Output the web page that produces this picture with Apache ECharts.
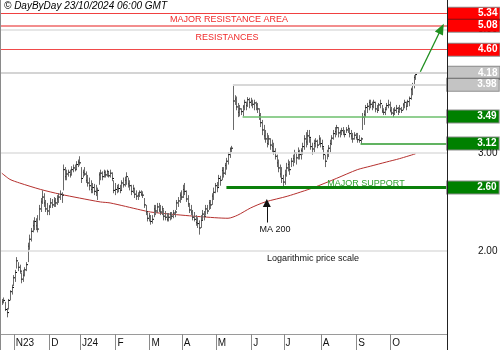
<!DOCTYPE html>
<html>
<head>
<meta charset="utf-8">
<script src="https://cdn.jsdelivr.net/npm/echarts@6/dist/echarts.min.js"></script>
<style>
  html, body { margin: 0; padding: 0; background: #fff; }
  #chart { width: 500px; height: 350px; }
</style>
</head>
<body>
<div id="chart"></div>
<script>
// Trading calendar: weekdays between these dates, minus exchange holidays
const firstSession = '2023-10-20';
const lastSession = '2024-10-22';
const holidays = ['2023-12-25', '2023-12-26', '2024-01-01', '2024-03-29', '2024-04-01', '2024-05-01'];
const emptySessionsAfter = 19;

// Daily highs, lows and closes
const highs = [
  1.64,1.65,1.62,1.58,1.64,1.70,1.74,1.81,1.85,1.95,
  1.91,1.89,1.83,1.85,1.87,1.91,2.07,2.14,2.20,2.27,
  2.30,2.29,2.32,2.42,2.49,2.57,2.54,2.47,2.44,2.42,
  2.49,2.48,2.50,2.49,2.52,2.54,2.57,2.55,2.86,2.83,
  2.80,2.80,2.80,2.84,2.86,2.86,2.90,2.92,2.96,2.83,
  2.80,2.83,2.78,2.74,2.71,2.68,2.65,2.64,2.63,2.60,
  2.77,2.80,2.78,2.80,2.79,2.80,2.78,2.80,2.77,2.68,
  2.65,2.63,2.64,2.63,2.68,2.71,2.72,2.77,2.71,2.68,
  2.63,2.63,2.60,2.57,2.55,2.57,2.57,2.56,2.49,2.42,
  2.34,2.34,2.32,2.32,2.42,2.42,2.44,2.44,2.42,2.41,
  2.37,2.36,2.34,2.34,2.35,2.35,2.37,2.37,2.47,2.50,
  2.55,2.57,2.63,2.65,2.57,2.52,2.44,2.42,2.37,2.35,
  2.32,2.30,2.27,2.32,2.37,2.36,2.42,2.42,2.47,2.47,
  2.54,2.60,2.65,2.66,2.74,2.73,2.83,2.83,2.88,2.94,
  3.01,3.07,3.09,3.98,3.81,3.79,3.69,3.66,3.61,3.66,
  3.74,3.71,3.78,3.77,3.77,3.74,3.74,3.71,3.69,3.61,
  3.54,3.44,3.37,3.30,3.26,3.23,3.19,3.17,3.13,3.06,
  2.98,2.92,2.86,2.83,2.74,2.80,2.88,2.92,2.90,2.94,
  2.98,3.04,3.01,3.07,3.04,3.06,3.13,3.23,3.27,3.30,
  3.30,3.19,3.13,3.17,3.19,3.17,3.23,3.20,3.17,3.07,
  2.98,3.04,3.10,3.17,3.23,3.30,3.34,3.37,3.34,3.30,
  3.33,3.34,3.30,3.34,3.37,3.33,3.30,3.26,3.27,3.26,
  3.26,3.23,3.20,3.54,3.58,3.66,3.69,3.74,3.74,3.71,
  3.74,3.71,3.66,3.69,3.74,3.66,3.61,3.63,3.69,3.74,
  3.71,3.63,3.61,3.63,3.66,3.63,3.66,3.63,3.69,3.74,
  3.71,3.74,3.79,3.93,4.01,4.14,4.19
];
const lows = [
  1.60,1.61,1.56,1.52,1.57,1.63,1.67,1.73,1.76,1.86,
  1.84,1.82,1.75,1.76,1.80,1.84,1.91,2.01,2.08,2.16,
  2.18,2.18,2.16,2.27,2.35,2.43,2.40,2.35,2.32,2.32,
  2.39,2.39,2.40,2.40,2.42,2.44,2.47,2.44,2.57,2.68,
  2.68,2.72,2.71,2.74,2.77,2.78,2.80,2.83,2.85,2.65,
  2.71,2.73,2.65,2.61,2.57,2.54,2.54,2.52,2.51,2.47,
  2.63,2.68,2.68,2.71,2.71,2.72,2.71,2.71,2.67,2.54,
  2.52,2.54,2.55,2.54,2.57,2.60,2.61,2.63,2.60,2.57,
  2.52,2.54,2.49,2.47,2.47,2.50,2.51,2.49,2.39,2.32,
  2.26,2.26,2.23,2.24,2.30,2.32,2.34,2.35,2.32,2.32,
  2.27,2.27,2.26,2.26,2.27,2.28,2.29,2.30,2.37,2.40,
  2.44,2.47,2.49,2.52,2.45,2.40,2.34,2.32,2.27,2.26,
  2.22,2.20,2.14,2.20,2.27,2.27,2.32,2.33,2.37,2.38,
  2.42,2.47,2.54,2.55,2.61,2.62,2.68,2.71,2.74,2.80,
  2.86,2.94,3.01,3.30,3.66,3.58,3.48,3.49,3.51,3.49,
  3.58,3.58,3.63,3.61,3.64,3.61,3.58,3.58,3.54,3.44,
  3.34,3.23,3.17,3.13,3.07,3.10,3.04,3.01,2.98,2.92,
  2.83,2.77,2.71,2.65,2.61,2.63,2.72,2.78,2.74,2.83,
  2.84,2.88,2.86,2.92,2.92,2.92,2.98,3.04,3.07,3.10,
  3.13,3.04,2.98,3.01,3.07,3.06,3.10,3.07,3.04,2.92,
  2.83,2.92,2.95,3.01,3.10,3.17,3.20,3.23,3.20,3.20,
  3.23,3.23,3.20,3.26,3.26,3.20,3.17,3.13,3.17,3.17,
  3.13,3.13,3.12,3.30,3.37,3.48,3.54,3.58,3.61,3.58,
  3.61,3.55,3.54,3.58,3.61,3.54,3.51,3.51,3.58,3.61,
  3.55,3.51,3.48,3.51,3.54,3.51,3.54,3.54,3.58,3.61,
  3.58,3.63,3.64,3.74,3.81,3.92,4.06
];
const closes = [
  1.62,1.63,1.57,1.55,1.63,1.69,1.72,1.79,1.83,1.92,
  1.87,1.84,1.78,1.81,1.85,1.89,2.04,2.10,2.17,2.22,
  2.26,2.22,2.19,2.38,2.45,2.50,2.44,2.38,2.36,2.40,
  2.44,2.42,2.46,2.44,2.48,2.50,2.53,2.52,2.80,2.72,
  2.75,2.77,2.74,2.80,2.82,2.80,2.86,2.89,2.88,2.70,
  2.77,2.75,2.68,2.65,2.62,2.58,2.60,2.56,2.55,2.57,
  2.74,2.76,2.72,2.77,2.74,2.78,2.73,2.76,2.70,2.57,
  2.58,2.60,2.59,2.57,2.65,2.63,2.68,2.72,2.64,2.62,
  2.56,2.59,2.53,2.51,2.52,2.55,2.53,2.52,2.42,2.35,
  2.29,2.31,2.26,2.28,2.38,2.36,2.40,2.37,2.35,2.38,
  2.31,2.30,2.28,2.30,2.33,2.31,2.34,2.35,2.44,2.46,
  2.52,2.50,2.58,2.56,2.48,2.43,2.37,2.35,2.30,2.28,
  2.25,2.24,2.20,2.27,2.33,2.31,2.38,2.36,2.44,2.42,
  2.51,2.55,2.62,2.60,2.70,2.68,2.79,2.76,2.85,2.90,
  2.98,3.05,3.06,3.72,3.75,3.63,3.55,3.60,3.56,3.63,
  3.70,3.65,3.74,3.70,3.72,3.67,3.69,3.66,3.60,3.50,
  3.40,3.30,3.22,3.18,3.12,3.18,3.10,3.08,3.02,2.96,
  2.88,2.82,2.75,2.70,2.66,2.74,2.82,2.86,2.80,2.90,
  2.93,3.00,2.94,3.02,2.98,3.03,3.08,3.18,3.14,3.22,
  3.20,3.08,3.05,3.12,3.15,3.10,3.18,3.12,3.08,2.98,
  2.90,3.00,3.06,3.12,3.19,3.25,3.28,3.33,3.26,3.27,
  3.29,3.27,3.24,3.30,3.32,3.25,3.22,3.18,3.23,3.20,
  3.17,3.16,3.18,3.48,3.52,3.62,3.64,3.70,3.67,3.64,
  3.70,3.60,3.58,3.66,3.68,3.57,3.55,3.59,3.65,3.66,
  3.58,3.54,3.53,3.58,3.61,3.56,3.60,3.58,3.66,3.70,
  3.64,3.71,3.76,3.90,3.97,4.10,4.15
];

// 200-day moving average, [session index, value]
const ma200 = [
  [0, 2.76], [5, 2.69], [11, 2.65], [24, 2.58], [36, 2.53], [48, 2.49],
  [61, 2.45], [67, 2.44], [86, 2.37], [92, 2.35], [104, 2.33], [123, 2.305],
  [140, 2.29], [146, 2.32], [154, 2.39], [163, 2.45], [177, 2.51], [193, 2.60],
  [207, 2.70], [220, 2.80], [228, 2.84], [238, 2.89], [246, 2.93], [256, 2.99]
];

// Price levels: [value, first session index or null for full width]
const resistances = [[5.34, null], [5.08, null], [4.60, null]];
const pivots = [[4.18, null], [3.98, 143]];
const supports = [[3.49, 149], [3.12, 222], [2.60, 139]];
const gridTicks = [5.00, 3.00, 2.00];

// Projection arrow and MA marker: [session index, price]
const targetArrow = [[259, 4.20], [272, 5.02]];
const maPointer = [[164, 2.25], [164, 2.44]];

// ---------------------------------------------------------------
function buildSessions(from, to, skip) {
  const out = [];
  const d = new Date(from + 'T00:00:00Z');
  const end = new Date(to + 'T00:00:00Z');
  while (d <= end) {
    const wd = d.getUTCDay();
    const s = d.toISOString().slice(0, 10);
    if (wd !== 0 && wd !== 6 && skip.indexOf(s) < 0) out.push(s);
    d.setUTCDate(d.getUTCDate() + 1);
  }
  return out;
}
const sessions = buildSessions(firstSession, lastSession, holidays);
const categories = sessions.slice();
for (let k = 0; k < emptySessionsAfter; k++) categories.push('next' + k);
const lastIdx = categories.length - 1;

const MONTHS = 'JFMAMJJASOND';
function isMonthStart(i) {
  if (i <= 0 || i >= sessions.length) return false;
  return sessions[i].slice(5, 7) !== sessions[i - 1].slice(5, 7);
}
let firstMonthIdx = -1;
for (let i = 0; i < sessions.length; i++) { if (isMonthStart(i)) { firstMonthIdx = i; break; } }
function monthLabel(i) {
  const s = sessions[i];
  const m = parseInt(s.slice(5, 7), 10);
  let t = MONTHS[m - 1];
  if (m === 1 || i === firstMonthIdx) t += s.slice(2, 4);
  return t;
}

const FONT = 'Arial, "Liberation Sans", sans-serif';

function levelLabel(text, bg) {
  return {
    show: true, position: 'end', distance: 1, formatter: text,
    color: '#fff', fontWeight: 'bold', fontSize: 10, fontFamily: FONT,
    backgroundColor: bg, padding: [1, 2, 1, 30], lineHeight: 10,
    borderColor: 'rgba(0,0,0,0.45)', borderWidth: 1
  };
}
function levelLine(entry, style, bg) {
  const v = entry[0], start = entry[1];
  const label = levelLabel(v.toFixed(2), bg);
  if (start === null) {
    return { yAxis: v, lineStyle: style, label: label };
  }
  return [
    { coord: [start, v], lineStyle: style, label: label },
    { coord: [lastIdx, v], lineStyle: style, label: label }
  ];
}

const markData = [];
gridTicks.forEach(function (v) {
  markData.push({
    yAxis: v,
    lineStyle: { color: '#dedede', width: 1.5, type: 'solid', opacity: 1 },
    label: { show: true, position: 'end', distance: 1, formatter: v.toFixed(2),
      color: '#111', fontSize: 10, fontFamily: FONT, padding: [0, 2, 0, 30] }
  });
});
markData.push(levelLine(resistances[0], { color: '#f04040', width: 1, type: 'solid', opacity: 1 }, '#ff0000'));
markData.push(levelLine(resistances[1], { color: '#f38d8d', width: 2, type: 'solid', opacity: 1 }, '#ff0000'));
markData.push(levelLine(resistances[2], { color: '#f04a4a', width: 1.2, type: 'solid', opacity: 1 }, '#ff0000'));
markData.push(levelLine(pivots[0], { color: '#d4d4d4', width: 2, type: 'solid', opacity: 1 }, '#c4c4c4'));
markData.push(levelLine(pivots[1], { color: '#d8d8d8', width: 2, type: 'solid', opacity: 1 }, '#c4c4c4'));
markData.push(levelLine(supports[0], { color: '#6cbf6c', width: 1.5, type: 'solid', opacity: 1 }, '#008000'));
markData.push(levelLine(supports[1], { color: '#2c9a2c', width: 1.5, type: 'solid', opacity: 1 }, '#008000'));
markData.push(levelLine(supports[2], { color: '#0a800a', width: 3, type: 'solid', opacity: 1 }, '#008000'));

const arrowData = [
  [
    { coord: targetArrow[0], symbol: 'none', lineStyle: { color: '#1f8f1f', width: 1.3, type: 'solid' } },
    { coord: targetArrow[1], symbol: 'triangle', symbolSize: [9, 11], lineStyle: { color: '#1f8f1f', width: 1.3, type: 'solid' } }
  ],
  [
    { coord: maPointer[0], symbol: 'none', lineStyle: { color: '#111', width: 1, type: 'solid' } },
    { coord: maPointer[1], symbol: 'triangle', symbolSize: [8, 8], lineStyle: { color: '#111', width: 1, type: 'solid' } }
  ]
];

const barData = highs.map(function (h, i) { return [i, h, lows[i], closes[i]]; });

const chart = echarts.init(document.getElementById('chart'), null, { renderer: 'canvas' });
chart.setOption({
  animation: false,
  backgroundColor: '#fff',
  textStyle: { fontFamily: FONT },
  grid: { left: 1, right: 53, top: 0, bottom: 16 },
  xAxis: {
    type: 'category',
    data: categories,
    boundaryGap: true,
    axisLine: { show: true, lineStyle: { color: '#9a9a9a', width: 1 } },
    axisTick: {
      show: true, length: 16, lineStyle: { color: '#8a8a8a' },
      interval: function (i) { return isMonthStart(i); }
    },
    axisLabel: {
      show: true, color: '#111', fontSize: 10, fontFamily: FONT, align: 'left',
      margin: 4, padding: [0, 0, 0, 1],
      interval: function (i) { return isMonthStart(i); },
      formatter: function (v, i) { return isMonthStart(i) ? monthLabel(i) : ''; }
    },
    splitLine: { show: false }
  },
  yAxis: {
    type: 'log',
    logBase: 10,
    min: 1.4186,
    max: 5.650,
    position: 'right',
    axisLine: { show: false },
    axisTick: { show: false },
    axisLabel: { show: false },
    splitLine: { show: false }
  },
  series: [
    {
      name: 'levels',
      type: 'line',
      data: ma200,
      z: 1,
      symbol: 'none',
      lineStyle: { opacity: 0 },
      silent: true,
      markLine: { silent: true, symbol: 'none', animation: false, data: markData }
    },
    {
      name: 'MA 200',
      type: 'line',
      data: ma200,
      z: 2,
      symbol: 'none',
      smooth: 0.25,
      lineStyle: { color: '#b5302e', width: 1 },
      silent: true,
      markLine: { silent: true, animation: false, data: arrowData, label: { show: false } }
    },
    {
      name: 'price',
      type: 'custom',
      z: 3,
      data: barData,
      encode: { x: 0, y: [1, 2, 3] },
      renderItem: function (params, api) {
        const idx = api.value(0);
        const pHi = api.coord([idx, api.value(1)]);
        const pLo = api.coord([idx, api.value(2)]);
        const pCl = api.coord([idx, api.value(3)]);
        const cx = Math.round(pHi[0]) + 0.5;
        return {
          type: 'group',
          children: [
            { type: 'line', shape: { x1: cx, y1: pHi[1], x2: cx, y2: pLo[1] },
              style: { stroke: '#6a6a6a', lineWidth: 1 } },
            { type: 'line', shape: { x1: cx, y1: pCl[1], x2: cx + 1.5, y2: pCl[1] },
              style: { stroke: '#000', lineWidth: 1 } }
          ]
        };
      }
    }
  ],
  graphic: [
    { type: 'line', shape: { x1: 0.5, y1: 0, x2: 0.5, y2: 350 }, style: { stroke: '#8a8a8a', lineWidth: 1 }, z: 10 },
    { type: 'line', shape: { x1: 447.5, y1: 0, x2: 447.5, y2: 350 }, style: { stroke: '#222', lineWidth: 1 }, z: 10 },
    { type: 'text', left: 4, top: 1, z: 10,
      style: { text: '\u00a9 DayByDay 23/10/2024 06:00 GMT', fontSize: 10, fontStyle: 'italic', fontFamily: FONT, fill: '#000' } },
    { type: 'text', x: 229, y: 20, z: 10,
      style: { text: 'MAJOR RESISTANCE AREA', fontSize: 9, fontFamily: FONT, fill: '#f02a2a', align: 'center', verticalAlign: 'middle' } },
    { type: 'text', x: 227, y: 38, z: 10,
      style: { text: 'RESISTANCES', fontSize: 9, fontFamily: FONT, fill: '#f02a2a', align: 'center', verticalAlign: 'middle' } },
    { type: 'text', x: 366, y: 184, z: 10,
      style: { text: 'MAJOR SUPPORT', fontSize: 9, fontFamily: FONT, fill: '#2ea02e', align: 'center', verticalAlign: 'middle' } },
    { type: 'text', x: 275, y: 230, z: 10,
      style: { text: 'MA 200', fontSize: 9, fontFamily: FONT, fill: '#111', align: 'center', verticalAlign: 'middle' } },
    { type: 'text', x: 313, y: 259, z: 10,
      style: { text: 'Logarithmic price scale', fontSize: 9, fontFamily: FONT, fill: '#111', align: 'center', verticalAlign: 'middle' } }
  ]
});
</script>
</body>
</html>
